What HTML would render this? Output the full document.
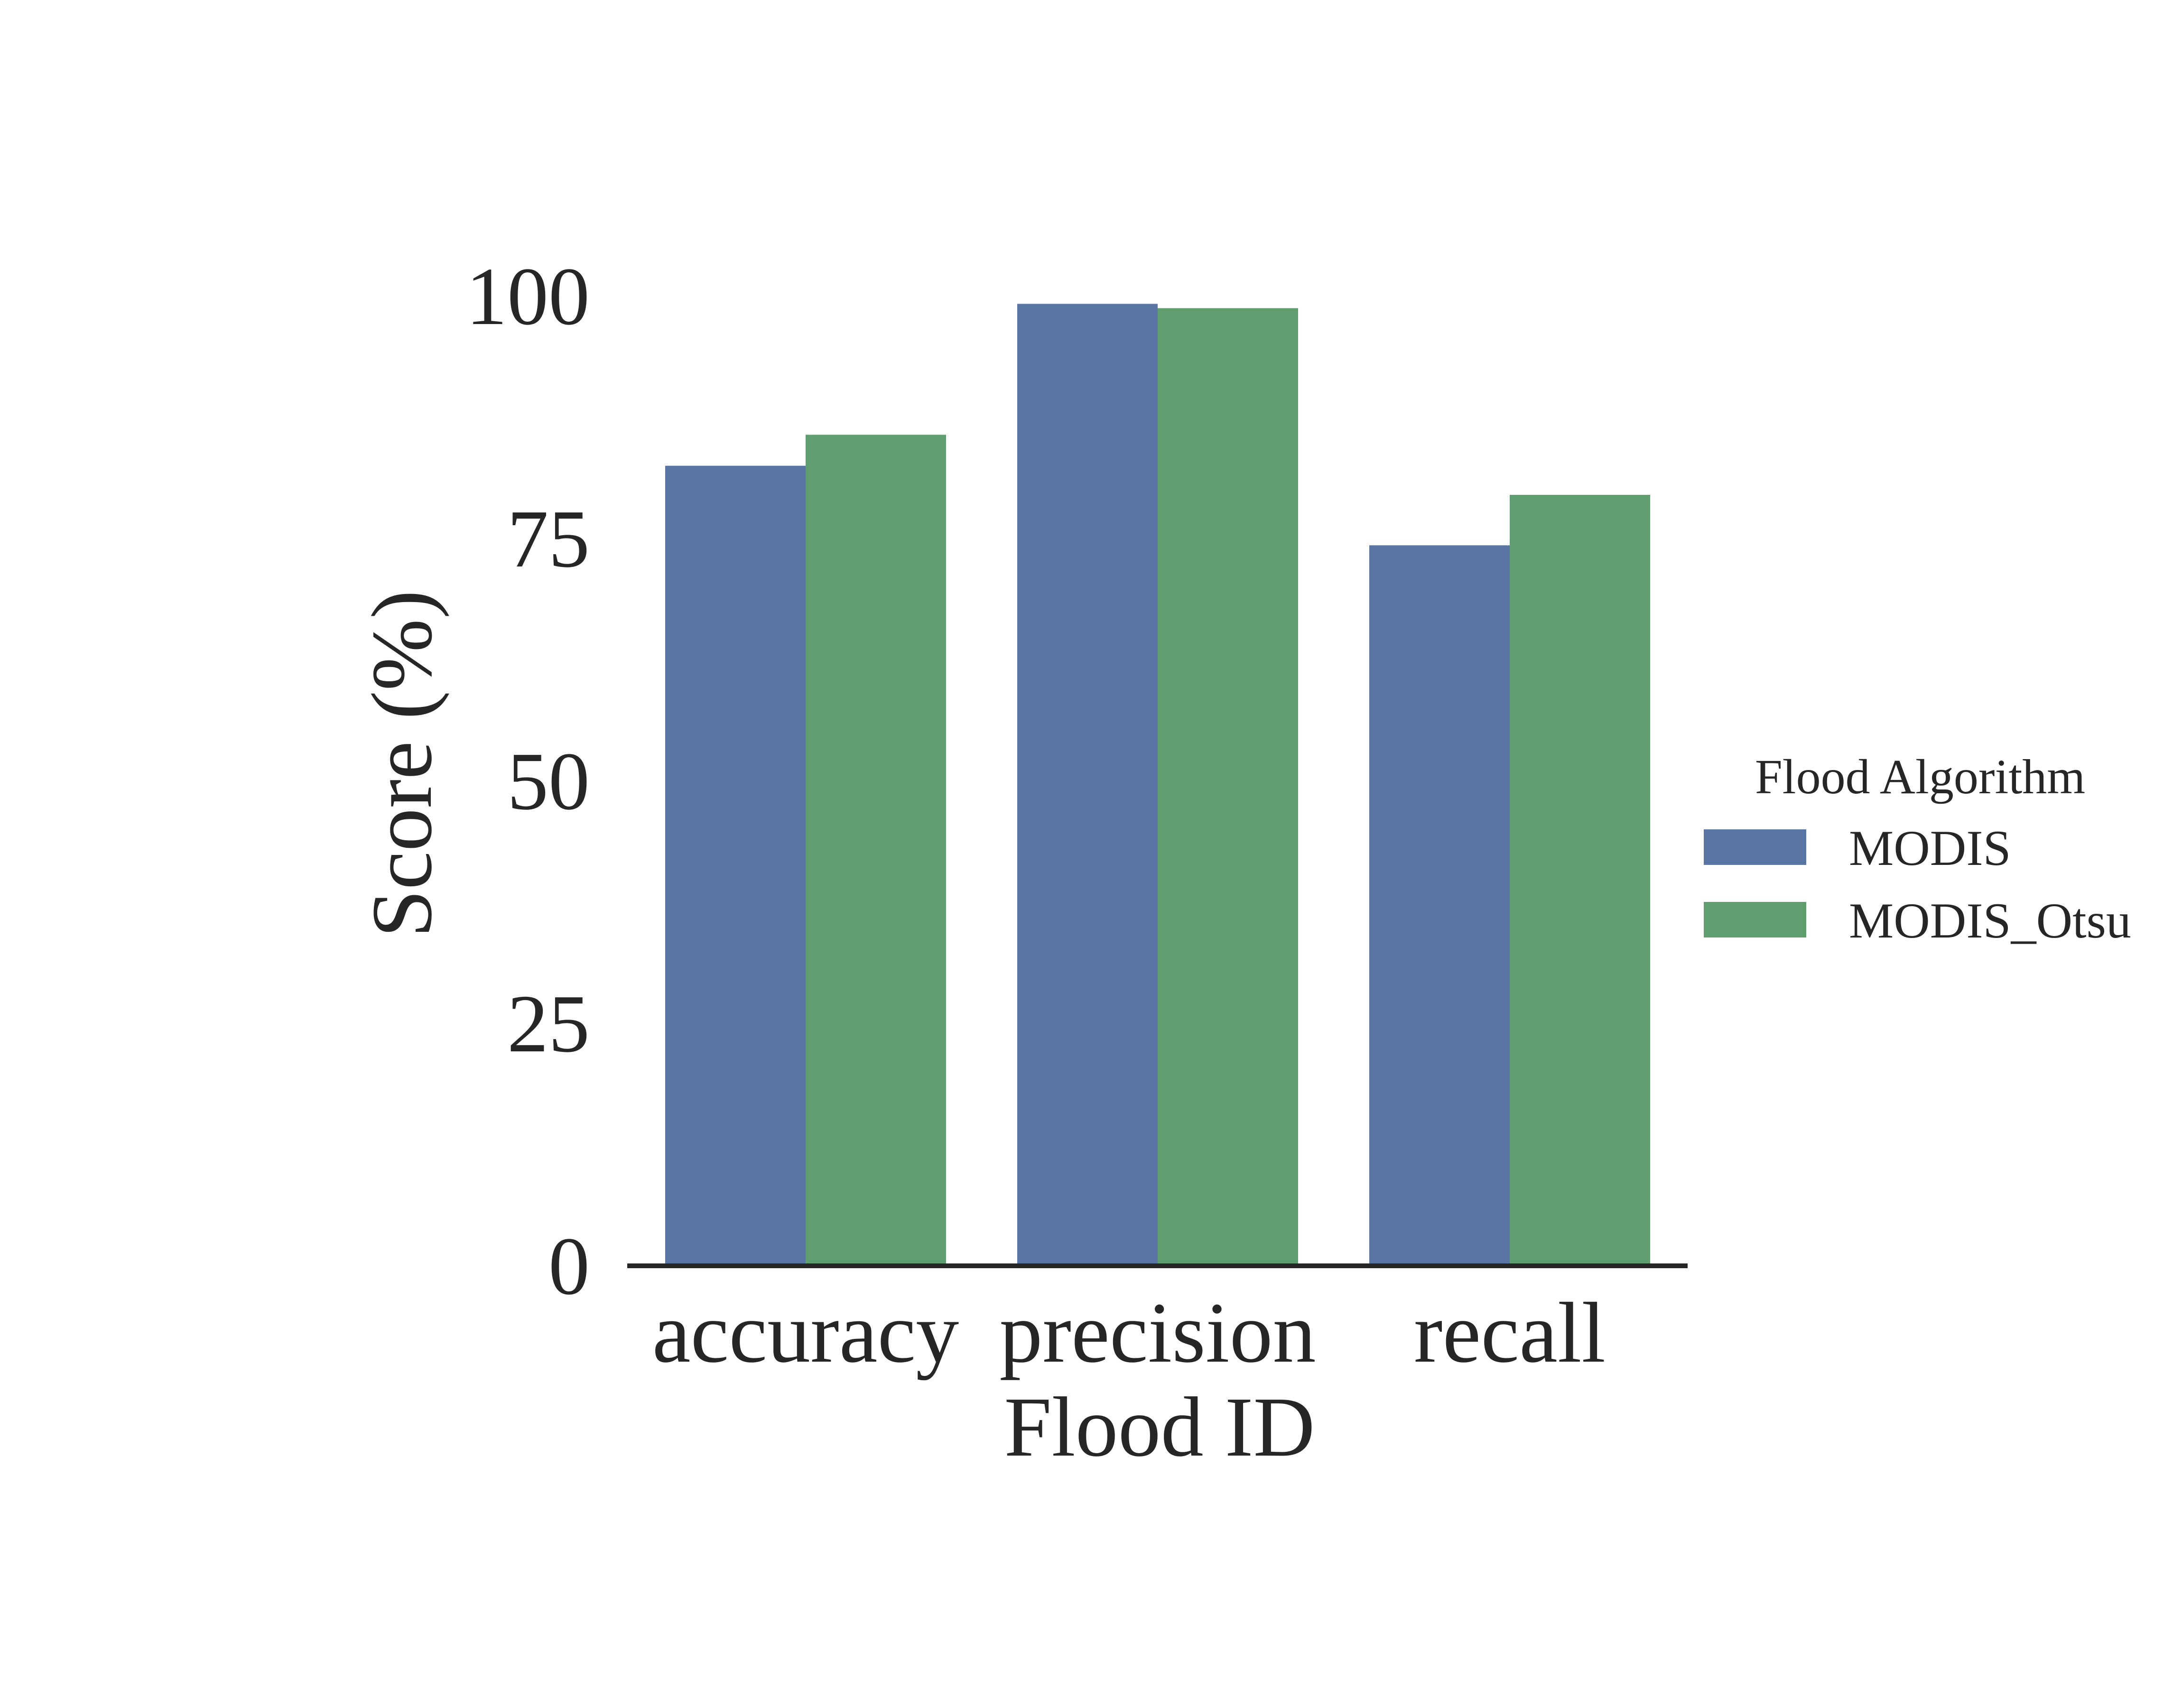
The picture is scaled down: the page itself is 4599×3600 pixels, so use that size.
<!DOCTYPE html>
<html><head><meta charset="utf-8"><style>
html,body{margin:0;padding:0;background:#fff;}
svg{display:block;}
text{font-family:"Liberation Serif","Times New Roman",serif;fill:#262626;}
</style></head><body>
<svg id="chart" width="4599" height="3600" viewBox="0 0 4599 3600" xmlns="http://www.w3.org/2000/svg">
<rect width="4599" height="3600" fill="#fff"/>
<g id="bars"></g>
<g id="yticks"></g>
<g id="xticks"></g>
<line x1="1322" y1="2668" x2="3557" y2="2668" stroke="#262626" stroke-width="10"/>
<text x="2444" y="3068" font-size="180" text-anchor="middle">Flood ID</text>
<text transform="translate(908,1610) rotate(-90)" font-size="182" text-anchor="middle">Score (%)</text>
<g>
<text x="4047" y="1672" font-size="104" text-anchor="middle">Flood Algorithm</text>
<rect x="3591" y="1748" width="216" height="75" fill="#5975a4"/>
<text x="3897" y="1823" font-size="106">MODIS</text>
<rect x="3591" y="1901" width="216" height="75" fill="#5f9e6e"/>
<text x="3897" y="1976" font-size="106">MODIS_Otsu</text>
</g>
</svg>
<script>
const categories = ["accuracy", "precision", "recall"];
const modisValues = [82.5, 99.2, 74.3];
const otsuValues = [85.7, 98.75, 79.5];
const yTickValues = [0, 25, 50, 75, 100];
const yTickLabels = ["0", "25", "50", "75", "100"];

const NS = "http://www.w3.org/2000/svg";
const y0 = 2668, pxPerUnit = 20.44;
const yScale = v => y0 - v * pxPerUnit;
const groupStart = 1402, groupStep = 742, barW = 296;
const xCenter = i => groupStart + barW + i * groupStep;

const barsG = document.getElementById('bars');
function addBar(x, v, color, name) {
  const r = document.createElementNS(NS, 'rect');
  r.setAttribute('x', x);
  r.setAttribute('y', yScale(v));
  r.setAttribute('width', barW);
  r.setAttribute('height', y0 - yScale(v));
  r.setAttribute('fill', color);
  
  
  barsG.appendChild(r);
}
categories.forEach((c, i) => {
  addBar(xCenter(i) - barW, modisValues[i], '#5975a4', 'bar-modis-' + c);
  addBar(xCenter(i), otsuValues[i], '#5f9e6e', 'bar-modis-otsu-' + c);
});

const yG = document.getElementById('yticks');
yTickValues.forEach((v, i) => {
  const t = document.createElementNS(NS, 'text');
  t.setAttribute('x', 1243);
  t.setAttribute('y', yScale(v) + 59);
  t.setAttribute('font-size', '174');
  t.setAttribute('text-anchor', 'end');
  
  
  t.textContent = yTickLabels[i];
  yG.appendChild(t);
});

const xG = document.getElementById('xticks');
categories.forEach((c, i) => {
  const t = document.createElementNS(NS, 'text');
  t.setAttribute('x', xCenter(i));
  t.setAttribute('y', 2870);
  t.setAttribute('font-size', '182');
  t.setAttribute('text-anchor', 'middle');
  
  
  t.textContent = c;
  xG.appendChild(t);
});
</script>
</body></html>
